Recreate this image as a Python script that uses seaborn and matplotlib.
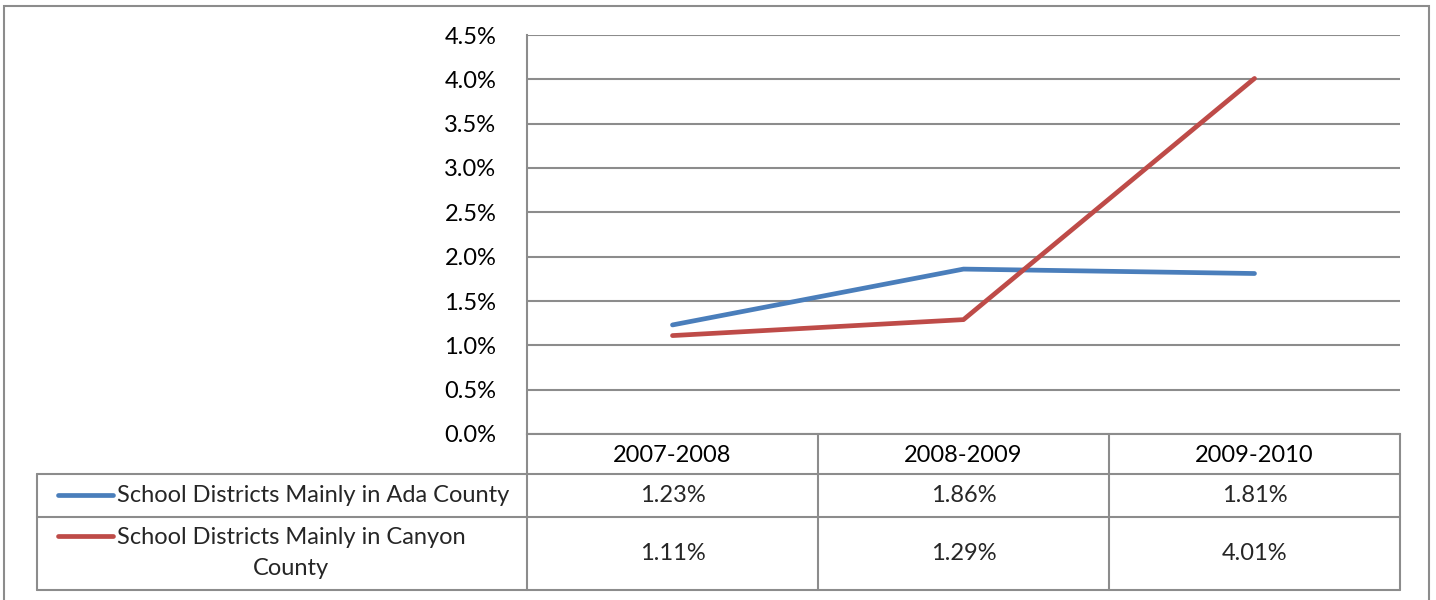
import matplotlib
matplotlib.use("Agg")
import matplotlib.pyplot as plt
import matplotlib.transforms as mtransforms
from matplotlib.lines import Line2D
from matplotlib.patches import Rectangle
import seaborn as sns
import pandas as pd

years = ["2007-2008", "2008-2009", "2009-2010"]
series_names = ["School Districts Mainly in Ada County",
                "School Districts Mainly in Canyon\nCounty"]
ada = [1.23, 1.86, 1.81]
canyon = [1.11, 1.29, 4.01]
y_ticks = [0.0, 0.5, 1.0, 1.5, 2.0, 2.5, 3.0, 3.5, 4.0, 4.5]
colors = ["#4A7EBB", "#BE4B48"]

df = pd.DataFrame({
    "year": years * 2,
    "value": ada + canyon,
    "series": [series_names[0]] * 3 + [series_names[1]] * 3,
})

sns.set_theme(style="white")
plt.rcParams["font.family"] = ["Lato", "DejaVu Sans"]

FS = 17
W, H = 1436, 600
fig = plt.figure(figsize=(W / 100, H / 100), dpi=100)

def fx(x):
    return x / W

def fy(y):
    return 1 - y / H

L, R, T, B = 527, 1400, 35, 434
ax = fig.add_axes([fx(L), fy(B), fx(R) - fx(L), fy(T) - fy(B)])

sns.lineplot(data=df, x="year", y="value", hue="series", palette=colors,
             linewidth=3.4, ax=ax, legend=False, sort=False)
ax.set_xlim(-0.5, 2.5)
ax.set_ylim(0, 4.5)
ax.set_yticks(y_ticks)
ax.set_yticklabels([f"{v:.1f}%" for v in y_ticks], fontsize=FS)
ax.set_xlabel("")
ax.set_ylabel("")
ax.set_xticks(range(len(years)))
ax.set_xticklabels(years, fontsize=FS)
ax.tick_params(axis="y", length=0, pad=22, colors="black")
ax.tick_params(axis="x", length=0, pad=8, colors="black")
gray = "#8C8C8C"
ax.grid(axis="y", color=gray, linewidth=1.5)
ax.set_axisbelow(True)
for s in ["top", "right"]:
    ax.spines[s].set_visible(False)
ax.spines["left"].set_color(gray)
ax.spines["left"].set_linewidth(1.5)
ax.spines["bottom"].set_color(gray)
ax.spines["bottom"].set_linewidth(1.5)

def fline(x0, y0, x1, y1, **kw):
    fig.add_artist(Line2D([fx(x0), fx(x1)], [fy(y0), fy(y1)],
                          transform=fig.transFigure, color=gray,
                          linewidth=1.5, **kw))

# outer border
fig.add_artist(Rectangle((fx(4), fy(640)), fx(1429) - fx(4), fy(6) - fy(640),
                         transform=fig.transFigure, fill=False,
                         edgecolor=gray, linewidth=1.5))

# data table grid
col_x = [527, 818, 1109, 1400]
for x in col_x:
    fline(x, 434, x, 590)
fline(37, 474, 37, 590)
for y in [474, 517, 590]:
    fline(37, y, 1400, y)

# table values
trans = mtransforms.blended_transform_factory(ax.transData, fig.transFigure)
rows = [(ada, 495), (canyon, 553)]
for vals, yc in rows:
    for i, v in enumerate(vals):
        ax.text(i, fy(yc), f"{v:.2f}%", transform=trans, ha="center",
                va="center", fontsize=FS, clip_on=False)

# legend keys and names
fig.add_artist(Line2D([fx(58), fx(113)], [fy(495), fy(495)],
                      transform=fig.transFigure, color=colors[0],
                      linewidth=3.4, solid_capstyle="round"))
fig.text(fx(117), fy(495), series_names[0], ha="left", va="center",
         fontsize=FS)
fig.add_artist(Line2D([fx(58), fx(113)], [fy(536), fy(536)],
                      transform=fig.transFigure, color=colors[1],
                      linewidth=3.4, solid_capstyle="round"))
fig.text(fx(117), fy(553), series_names[1], ha="left", va="center",
         multialignment="center", fontsize=FS, linespacing=1.55)

fig.savefig("out.png", dpi=100, facecolor="white")
